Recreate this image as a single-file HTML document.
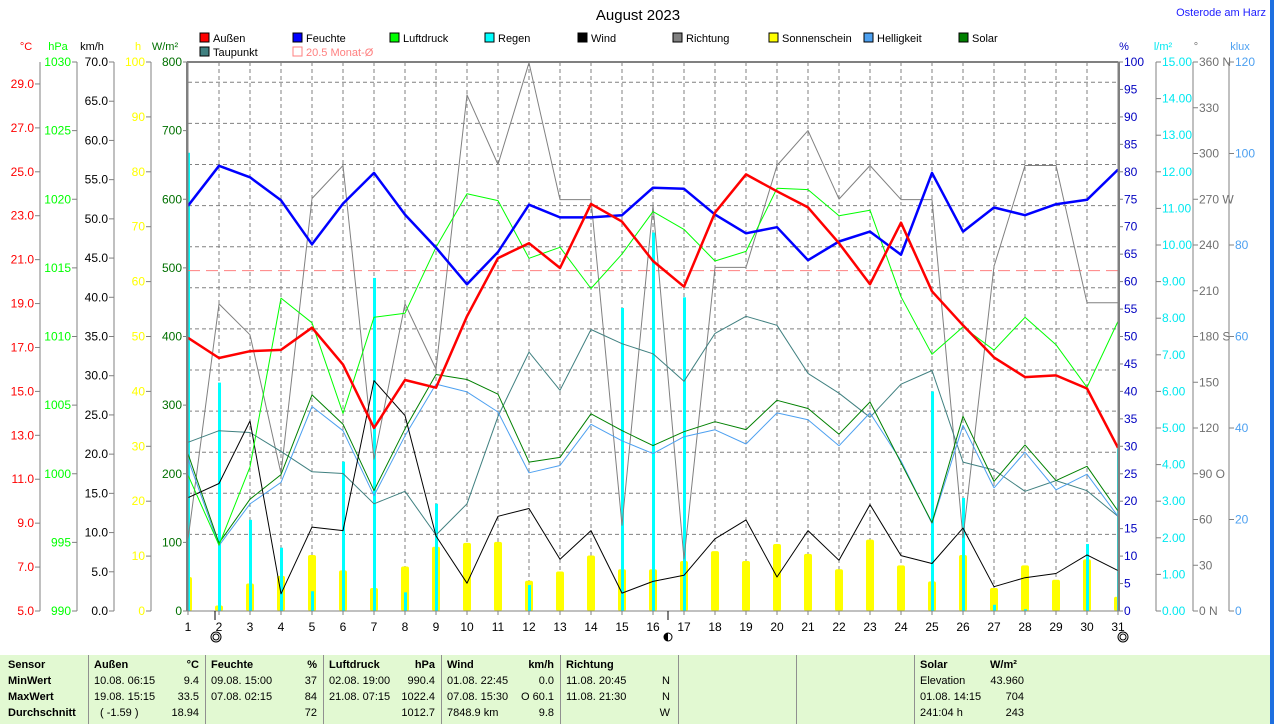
<!DOCTYPE html>
<html><head><meta charset="utf-8">
<style>
html,body{margin:0;padding:0;background:#fff;}
body{width:1274px;height:724px;overflow:hidden;position:relative;font-family:"Liberation Sans",sans-serif;}
svg{position:absolute;left:0;top:0;}
#panel{position:absolute;left:0;top:655px;width:1270px;height:69px;background:#e2f9d2;font-size:11px;}
.col{position:absolute;top:0;height:69px;border-right:1px solid #909090;}
.r{position:absolute;white-space:nowrap;}
.b{font-weight:bold;}
</style></head><body>
<svg id="chart" width="1274" height="724"></svg>
<div id="panel">
 <div class="col" style="left:0;width:88px">
  <div class="r b" style="left:8px;top:4px">Sensor</div><div class="r b" style="left:8px;top:20px">MinWert</div>
  <div class="r b" style="left:8px;top:36px">MaxWert</div><div class="r b" style="left:8px;top:52px">Durchschnitt</div></div>
 <div class="col" style="left:88px;width:117px">
  <div class="r b" style="left:6px;top:4px">Außen</div><div class="r b" style="right:6px;top:4px">°C</div>
  <div class="r" style="left:6px;top:20px">10.08. 06:15</div><div class="r" style="right:6px;top:20px">9.4</div>
  <div class="r" style="left:6px;top:36px">19.08. 15:15</div><div class="r" style="right:6px;top:36px">33.5</div>
  <div class="r" style="left:12px;top:52px">( -1.59 )</div><div class="r" style="right:6px;top:52px">18.94</div></div>
 <div class="col" style="left:206px;width:117px">
  <div class="r b" style="left:5px;top:4px">Feuchte</div><div class="r b" style="right:6px;top:4px">%</div>
  <div class="r" style="left:5px;top:20px">09.08. 15:00</div><div class="r" style="right:6px;top:20px">37</div>
  <div class="r" style="left:5px;top:36px">07.08. 02:15</div><div class="r" style="right:6px;top:36px">84</div>
  <div class="r" style="right:6px;top:52px">72</div></div>
 <div class="col" style="left:324px;width:117px">
  <div class="r b" style="left:5px;top:4px">Luftdruck</div><div class="r b" style="right:6px;top:4px">hPa</div>
  <div class="r" style="left:5px;top:20px">02.08. 19:00</div><div class="r" style="right:6px;top:20px">990.4</div>
  <div class="r" style="left:5px;top:36px">21.08. 07:15</div><div class="r" style="right:6px;top:36px">1022.4</div>
  <div class="r" style="right:6px;top:52px">1012.7</div></div>
 <div class="col" style="left:442px;width:118px">
  <div class="r b" style="left:5px;top:4px">Wind</div><div class="r b" style="right:6px;top:4px">km/h</div>
  <div class="r" style="left:5px;top:20px">01.08. 22:45</div><div class="r" style="right:6px;top:20px">0.0</div>
  <div class="r" style="left:5px;top:36px">07.08. 15:30</div><div class="r" style="right:6px;top:36px">O 60.1</div>
  <div class="r" style="left:5px;top:52px">7848.9 km</div><div class="r" style="right:6px;top:52px">9.8</div></div>
 <div class="col" style="left:561px;width:117px">
  <div class="r b" style="left:5px;top:4px">Richtung</div>
  <div class="r" style="left:5px;top:20px">11.08. 20:45</div><div class="r" style="right:8px;top:20px">N</div>
  <div class="r" style="left:5px;top:36px">11.08. 21:30</div><div class="r" style="right:8px;top:36px">N</div>
  <div class="r" style="right:8px;top:52px">W</div></div>
 <div class="col" style="left:679px;width:117px"></div>
 <div class="col" style="left:797px;width:117px"></div>
 <div class="col" style="left:915px;width:115px;border-right:none">
  <div class="r b" style="left:5px;top:4px">Solar</div><div class="r b" style="left:75px;top:4px">W/m²</div>
  <div class="r" style="left:5px;top:20px">Elevation</div><div class="r" style="right:6px;top:20px">43.960</div>
  <div class="r" style="left:5px;top:36px">01.08. 14:15</div><div class="r" style="right:6px;top:36px">704</div>
  <div class="r" style="left:5px;top:52px">241:04 h</div><div class="r" style="right:6px;top:52px">243</div></div>
</div>
<div style="position:absolute;left:1270px;top:0;width:4px;height:724px;background:#1e6fe0"></div>
<script>
const days = Array.from({length:31},(_,i)=>i+1);
const temp = [17.44,16.52,16.83,16.89,17.90,16.22,13.34,15.52,15.17,18.42,21.07,21.75,20.62,23.54,22.73,20.94,19.77,23.14,24.88,24.11,23.38,21.75,19.88,22.68,19.56,18.01,16.55,15.65,15.73,15.13,12.43];
const humid = [73.8,81.1,79.0,74.8,66.8,74.2,79.8,72.2,66.2,59.5,65.4,74.0,71.7,71.7,72.1,77.1,76.9,72.2,68.8,69.9,63.9,67.3,69.1,64.9,79.8,69.1,73.5,72.1,74.1,74.9,80.4];
const press = [999.9,994.8,1000.5,1012.8,1011.0,1004.4,1011.4,1011.7,1016.5,1020.4,1019.9,1015.7,1016.5,1013.5,1016.0,1019.1,1017.8,1015.5,1016.2,1020.8,1020.7,1018.8,1019.2,1012.9,1008.7,1010.7,1009.0,1011.4,1009.4,1006.3,1011.1];
const dew = [12.68,13.21,13.13,12.27,11.34,11.26,9.88,10.45,8.46,9.88,13.86,16.79,15.05,17.82,17.17,16.71,15.46,17.64,18.42,18.01,15.82,14.92,13.82,15.33,15.95,11.78,11.42,10.45,10.94,10.48,9.31];
const wind = [14.44,16.26,24.23,2.19,10.70,10.25,29.38,24.91,9.56,3.55,12.07,13.07,6.60,10.25,2.28,3.78,4.55,9.20,11.61,4.33,10.25,6.47,13.57,7.06,6.06,10.57,3.10,4.24,4.78,7.15,5.15];
const dir = [46.8,201.4,181.1,90.2,270.5,292.1,99.5,201.4,158.6,338.4,292.8,359.5,269.8,269.8,56.2,265.8,34.0,225.3,225.3,292.1,315.0,270.1,292.1,269.8,269.8,48.0,226.0,292.1,292.1,202.1,202.1];
const solar = [229,98.9,162.9,198.8,314.9,272.2,175.4,265.5,344.6,337.3,315.9,217.0,223.8,287.3,262.9,241.0,261.3,275.9,264.4,307.1,295.1,257.6,304.5,216.0,128.6,283.7,188.9,242.0,190.0,210.8,145.7];
const bright = [33.2,14.3,23.4,28.1,44.7,39.4,25.2,38.3,49.6,47.9,43.5,30.2,31.8,40.8,37.2,34.4,38.1,39.6,36.5,43.3,41.8,36.1,43.3,32.8,19.1,40.6,26.9,34.7,26.5,29.9,20.7];
const rain = [12.52,6.24,2.49,1.73,0.54,4.08,9.10,0.51,2.93,0,0,0.71,0,0,8.28,10.34,8.57,0,0,0,0,0,0,0,6.0,3.09,0.17,0.05,0,1.83,4.44];
const sun = [6.2,1.0,5.0,6.4,10.2,7.4,4.2,8.1,11.7,12.4,12.6,5.5,7.2,10.1,7.6,7.6,9.1,10.9,9.1,12.2,10.4,7.6,13.0,8.3,5.4,10.2,4.2,8.3,5.7,9.4,2.6];
const monthAvg = 20.5;

const X0=188,X1=1118,Y0=62,Y1=611;
const svg=document.getElementById('chart');
const NS='http://www.w3.org/2000/svg';
function mk(tag,attrs,parent){const e=document.createElementNS(NS,tag);for(const k in attrs)e.setAttribute(k,attrs[k]);(parent||svg).appendChild(e);return e;}
function txt(x,y,s,fill,anchor,size,parent){const t=mk('text',{x:x,y:y,fill:fill,'font-size':size||12,'text-anchor':anchor||'start','font-family':'Liberation Sans, sans-serif'},parent);t.textContent=s;return t;}
const xd=d=>X0+(d-1)*(X1-X0)/30;
const sc=(mn,mx)=>v=>Y1-(v-mn)/(mx-mn)*(Y1-Y0);
const yT=sc(5,30),yH=sc(0,100),yP=sc(990,1030),yW=sc(0,70),yS=sc(0,800),yK=sc(0,120),yR=sc(0,15),yD=sc(0,360),yh=sc(0,100);

// title
let t=txt(638,20,'August 2023','#000','middle',15);

t=txt(1266,16,'Osterode am Harz','#2020ff','end',11);


// grid
const grid=mk('g',{stroke:'#808080','stroke-width':1,'stroke-dasharray':'4,3'});

for(let d=2;d<=30;d++)mk('line',{x1:xd(d),x2:xd(d),y1:Y0,y2:Y1},grid);
for(let k=0;k<12;k++){const y=82.3+k*41.1;mk('line',{x1:X0,x2:X1,y1:y,y2:y},grid);}

// sunshine bars
const gSun=mk('g',{fill:'#ffff00'});
days.forEach((d,i)=>{let x=xd(d)-4,w=8;if(x<X0){w-=X0-x;x=X0;}if(x+w>X1)w=X1-x;const y=yh(sun[i]);
 const r=mk('rect',{x:x,y:y,width:w,height:Y1-y,rx:2},gSun);});
// rain bars
const gRain=mk('g',{fill:'#00ffff'});
days.forEach((d,i)=>{if(rain[i]<=0)return;const y=yR(rain[i]);
 const r=mk('rect',{x:xd(d)-1,y:y,width:3,height:Y1-y},gRain);});

// month average
let ml=mk('line',{x1:X0,x2:X1,y1:yT(monthAvg),y2:yT(monthAvg),stroke:'#ff8080','stroke-width':1,'stroke-dasharray':'12,6'});


function series(arr,fy,color,w,name){const p=mk('polyline',{points:arr.map((v,i)=>xd(days[i])+','+fy(v).toFixed(1)).join(' '),fill:'none',stroke:color,'stroke-width':w,'stroke-linejoin':'round'});
 }
series(dir,yD,'#808080',1,'direction-line');
series(dew,yT,'#408080',1,'dewpoint-line');
series(bright,yK,'#4da0f0',1,'brightness-line');
series(solar,yS,'#008000',1,'solar-line');
series(wind,yW,'#000000',1,'wind-line');
series(press,yP,'#00ff00',1,'pressure-line');
series(humid,yH,'#0000ff',2.5,'humidity-line');
series(temp,yT,'#ff0000',2.5,'temperature-line');

// frame
mk('line',{x1:X0-1,x2:X1,y1:Y0,y2:Y0,stroke:'#808080','stroke-width':2});
mk('line',{x1:X0-1,x2:X0-1,y1:Y0,y2:Y1,stroke:'#808080','stroke-width':2});
mk('line',{x1:X1+1,x2:X1+1,y1:Y0,y2:Y1,stroke:'#808080','stroke-width':2});
mk('line',{x1:X0-1,x2:X1+1,y1:Y1,y2:Y1,stroke:'#808080','stroke-width':1});

// x labels
days.forEach(d=>{const l=txt(xd(d),631,String(d),'#000','middle',12);
 mk('line',{x1:xd(d),x2:xd(d),y1:Y1,y2:Y1+4,stroke:'#808080'});});
[2,31].forEach(d=>{mk('circle',{cx:xd(d)+(d==31?5:-3),cy:637,r:5,fill:'#fff',stroke:'#000','stroke-width':1});mk('circle',{cx:xd(d)+(d==31?5:-3),cy:637,r:3,fill:'#fff',stroke:'#000','stroke-width':1});});
mk('circle',{cx:xd(16)+15,cy:637,r:4,fill:'#fff',stroke:'#000'});mk('path',{d:`M${xd(16)+15},633 a4,4 0 0,0 0,8 z`,fill:'#000'});
mk('line',{x1:215,x2:215,y1:Y1,y2:620,stroke:'#000'});mk('line',{x1:668,x2:668,y1:Y1,y2:620,stroke:'#000'});

// axes
function axis(ax,mn,mx,step,color,dec,side,name,labelFn){const g=mk('g',{});
 const f=sc(mn,mx);mk('line',{x1:ax,x2:ax,y1:Y0,y2:Y1,stroke:'#808080'},g);
 for(let v=mn;v<=mx+1e-9;v+=step){const y=f(v);
  if(side=='L'){mk('line',{x1:ax-5,x2:ax,y1:y,y2:y,stroke:'#808080'},g);txt(ax-6,y+4,labelFn?labelFn(v):v.toFixed(dec),color,'end',12,g);}
  else{mk('line',{x1:ax,x2:ax+5,y1:y,y2:y,stroke:'#808080'},g);txt(ax+6,y+4,labelFn?labelFn(v):v.toFixed(dec),color,'start',12,g);}}}
axis(40,5,30,2,'#ff0000',1,'L','temp-axis');
// fix temp axis to 5..29 ticks only
axis(77,990,1030,5,'#00ff00',0,'L','pressure-axis');
axis(114,0,70,5,'#000000',1,'L','wind-axis');
axis(151,0,100,10,'#ffff00',0,'L','sunshine-axis');
axis(188,0,800,100,'#007000',0,'L','solar-axis');
axis(1118,0,100,5,'#0000c0',0,'R','humidity-axis');
axis(1156,0,15,1,'#00e8f0',2,'R','rain-axis');
const dirNames={0:' N',90:' O',180:' S',270:' W',360:' N'};
axis(1193,0,360,30,'#707070',0,'R','direction-axis',v=>v+(dirNames[v]||''));
axis(1229,0,120,20,'#4da0f0',0,'R','brightness-axis');
// unit headers
[['°C',26,'#ff0000'],['hPa',58,'#00ff00'],['km/h',92,'#000'],['h',138,'#ffff00'],['W/m²',165,'#007000'],['%',1124,'#0000c0'],['l/m²',1163,'#00e8f0'],['°',1196,'#707070'],['klux',1240,'#4da0f0']].forEach(u=>{
 const e=txt(u[1],50,u[0],u[2],'middle',11);});

// legend
const leg=[['Außen','#ff0000',200,42],['Feuchte','#0000ff',293,42],['Luftdruck','#00ff00',390,42],['Regen','#00ffff',485,42],['Wind','#000000',578,42],['Richtung','#808080',673,42],['Sonnenschein','#ffff00',769,42],['Helligkeit','#4da0f0',864,42],['Solar','#008000',959,42],['Taupunkt','#408080',200,56]];
leg.forEach(l=>{const g=mk('g',{});
 mk('rect',{x:l[2],y:l[3]-9,width:9,height:9,fill:l[1],stroke:'#000','stroke-width':1},g);txt(l[2]+13,l[3],l[0],'#000','start',11,g);});
const gm=mk('g',{});
mk('rect',{x:293,y:47,width:9,height:9,fill:'none',stroke:'#ff8080'},gm);txt(306,56,'20.5 Monat-Ø','#ff8080','start',11,gm);
</script>
</body></html>
